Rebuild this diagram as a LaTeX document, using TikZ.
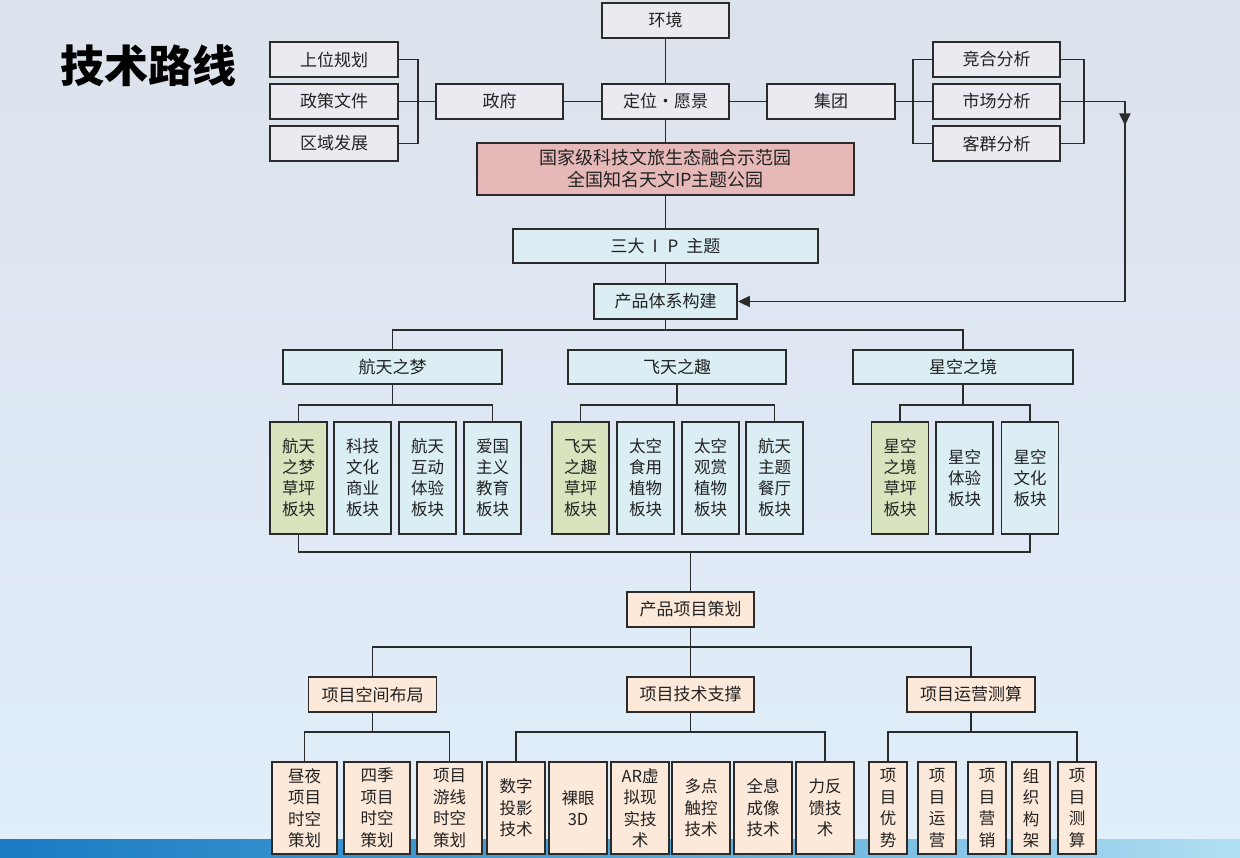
\documentclass[tikz,border=0pt]{standalone}
\usepackage{fontspec}
\newfontfamily\cjk{Noto Sans CJK SC}
\usetikzlibrary{arrows.meta}
\definecolor{linec}{HTML}{2B2B2B}
\definecolor{greyc}{HTML}{ECEAF1}
\definecolor{redc}{HTML}{E6B9B8}
\definecolor{cyanc}{HTML}{DAEEF3}
\definecolor{greenc}{HTML}{D7E4BD}
\definecolor{peachc}{HTML}{FDE9D9}
\definecolor{bgtop}{HTML}{DCE2EB}
\definecolor{bgmid}{HTML}{DEE8F4}
\definecolor{bgbot}{HTML}{E0EFFA}
\definecolor{bandl}{HTML}{1A7AC2}
\definecolor{bandm}{HTML}{4FA6D8}
\definecolor{bandr}{HTML}{B3DFF3}
\definecolor{txtc}{HTML}{222222}
\tikzset{
  base/.style={draw=linec, line width=1.8pt, inner sep=0pt, align=center, text=txtc},
  hbox/.style={base, font=\cjk\fontsize{17}{21}\selectfont, minimum height=35pt},
  greybox/.style={hbox, fill=greyc, minimum width=128pt},
  vbox/.style={base, font=\cjk\fontsize{16.5}{21}\selectfont, minimum width=57pt, minimum height=112pt},
  cbox/.style={vbox, fill=cyanc},
  gbox/.style={vbox, fill=greenc},
  bbox/.style={base, fill=peachc, font=\cjk\fontsize{16.5}{21.5}\selectfont, minimum height=92pt},
  conn/.style={draw=linec, line width=1.8pt},
  tip/.style={-{Triangle[length=12pt,width=11pt]}}
}
\begin{document}
\begin{tikzpicture}[x=1pt,y=-1pt]
\useasboundingbox (0,0) rectangle (1240,858);
% background
\shade[top color=bgtop, bottom color=bgbot, middle color=bgmid] (0,0) rectangle (1240,858);
\shade[left color=bandl, right color=bandr, middle color=bandm] (0,839) rectangle (1240,858);
% title
\node[font=\cjk\bfseries\fontsize{44}{48}\selectfont, text=black, anchor=center] (title) at (148,66) {技术路线};
% top level
\node[greybox, minimum width=127pt] (env) at (665.5,20.5) {环境};
\node[greybox] (sw) at (334,59.5) {上位规划};
\node[greybox] (zc) at (334,101.5) {政策文件};
\node[greybox] (qy) at (334,143.5) {区域发展};
\node[greybox, minimum width=127pt] (zf) at (499.5,101.5) {政府};
\node[greybox, minimum width=127pt] (dw) at (665.5,101.5) {定位・愿景};
\node[greybox] (jt) at (831,101.5) {集团};
\node[greybox, minimum width=127pt] (jh) at (996.5,59.5) {竞合分析};
\node[greybox, minimum width=127pt] (sc) at (996.5,101.5) {市场分析};
\node[greybox, minimum width=127pt] (kq) at (996.5,143.5) {客群分析};
\node[hbox, fill=redc, minimum width=377pt, minimum height=52pt, font=\cjk\fontsize{18}{22}\selectfont] (red) at (665.5,169) {国家级科技文旅生态融合示范园\\全国知名天文IP主题公园};
\node[hbox, fill=cyanc, minimum width=305pt, minimum height=34pt] (sd) at (665.5,246) {三大\hspace{8pt}I\hspace{10pt}P\hspace{8pt}主题};
\node[hbox, fill=cyanc, minimum width=143pt] (cp) at (665.5,301.5) {产品体系构建};
% level 2
\node[hbox, fill=cyanc, minimum width=219pt, minimum height=34pt] (hm) at (392.5,367) {航天之梦};
\node[hbox, fill=cyanc, minimum width=218pt, minimum height=34pt] (fq) at (677,367) {飞天之趣};
\node[hbox, fill=cyanc, minimum width=220pt, minimum height=34pt] (xk) at (963,367) {星空之境};
% level 3
\node[gbox] (a1) at (298.5,478) {航天\\之梦\\草坪\\板块};
\node[cbox] (a2) at (362.5,478) {科技\\文化\\商业\\板块};
\node[cbox] (a3) at (427.5,478) {航天\\互动\\体验\\板块};
\node[cbox] (a4) at (492.5,478) {爱国\\主义\\教育\\板块};
\node[gbox] (b1) at (580.5,478) {飞天\\之趣\\草坪\\板块};
\node[cbox] (b2) at (645.5,478) {太空\\食用\\植物\\板块};
\node[cbox] (b3) at (710.5,478) {太空\\观赏\\植物\\板块};
\node[cbox] (b4) at (774.5,478) {航天\\主题\\餐厅\\板块};
\node[gbox] (c1) at (900,478) {星空\\之境\\草坪\\板块};
\node[cbox] (c2) at (964.5,478) {星空\\体验\\板块};
\node[cbox] (c3) at (1030,478) {星空\\文化\\板块};
% level 4
\node[hbox, fill=peachc, minimum width=127pt] (pp) at (690.5,609.5) {产品项目策划};
\node[hbox, fill=peachc, minimum width=128pt] (s) at (372.5,694.5) {项目空间布局};
\node[hbox, fill=peachc, minimum width=127pt] (t) at (690.5,694.5) {项目技术支撑};
\node[hbox, fill=peachc, minimum width=128pt] (o) at (971,694.5) {项目运营测算};
% level 5
\node[bbox, minimum width=65pt] (d1) at (304.5,808) {昼夜\\项目\\时空\\策划};
\node[bbox, minimum width=66pt] (d2) at (377,808) {四季\\项目\\时空\\策划};
\node[bbox, minimum width=65pt] (d3) at (449.5,808) {项目\\游线\\时空\\策划};
\node[bbox, minimum width=58pt] (e1) at (516,808) {数字\\投影\\技术};
\node[bbox, minimum width=58pt] (e2) at (578,808) {裸眼\\3D};
\node[bbox, minimum width=58pt] (e3) at (640,808) {AR虚\\拟现\\实技\\术};
\node[bbox, minimum width=58pt] (e4) at (701,808) {多点\\触控\\技术};
\node[bbox, minimum width=58pt] (e5) at (763,808) {全息\\成像\\技术};
\node[bbox, minimum width=58pt] (e6) at (825,808) {力反\\馈技\\术};
\node[bbox, minimum width=38pt] (f1) at (888,808) {项\\目\\优\\势};
\node[bbox, minimum width=38pt] (f2) at (937,808) {项\\目\\运\\营};
\node[bbox, minimum width=38pt] (f3) at (987,808) {项\\目\\营\\销};
\node[bbox, minimum width=38pt] (f4) at (1031,808) {组\\织\\构\\架};
\node[bbox, minimum width=38pt] (f5) at (1077,808) {项\\目\\测\\算};
% connectors top
\draw[conn] (env.south) -- (dw.north);
\draw[conn] (sw.east) -- ++(19,0) |- (qy.east);
\draw[conn] (zc.east) -- (zf.west);
\draw[conn] (zf.east) -- (dw.west);
\draw[conn] (dw.east) -- (jt.west);
\draw[conn] (jh.west) -- ++(-19,0) |- (kq.west);
\draw[conn] (jt.east) -- (sc.west);
\draw[conn] (jh.east) -- ++(23,0) |- (kq.east);
\draw[conn] (sc.east) -- ++(23,0) -- ++(41,0) coordinate (r2);
\draw[conn, tip] (r2) |- (cp.east);
\draw[conn, tip] (r2) -- ++(0,24);
\draw[conn] (dw.south) -- (red.north);
\draw[conn] (red.south) -- (sd.north);
\draw[conn] (sd.south) -- (cp.north);
% level 2 connectors
\draw[conn] (cp.south) -- ++(0,10) coordinate (h1);
\draw[conn] (hm.north) |- (h1) -| (xk.north);
% level 3 brackets
\draw[conn] (hm.south) -- ++(0,20) coordinate (ba);
\draw[conn] (a1.north) |- (ba) -| (a4.north);
\draw[conn] (fq.south) -- ++(0,20) coordinate (bb);
\draw[conn] (b1.north) |- (bb) -| (b4.north);
\draw[conn] (xk.south) -- ++(0,20) coordinate (bc);
\draw[conn] (c1.north) |- (bc) -| (c3.north);
% converge
\coordinate (j) at (690.5,552);
\draw[conn] (a1.south) |- (j) -| (c3.south);
\draw[conn] (j) -- (pp.north);
% level 4
\draw[conn] (pp.south) -- ++(0,19) coordinate (k);
\draw[conn] (s.north) |- (k) -| (o.north);
\draw[conn] (k) -- (t.north);
% level 5
\draw[conn] (s.south) -- ++(0,19) coordinate (ks);
\draw[conn] (d1.north) |- (ks) -| (d3.north);
\draw[conn] (t.south) -- ++(0,19) coordinate (kt);
\draw[conn] (e1.north) |- (kt) -| (e6.north);
\draw[conn] (o.south) -- ++(0,19) coordinate (ko);
\draw[conn] (f1.north) |- (ko) -| (f5.north);
\end{tikzpicture}
\end{document}
